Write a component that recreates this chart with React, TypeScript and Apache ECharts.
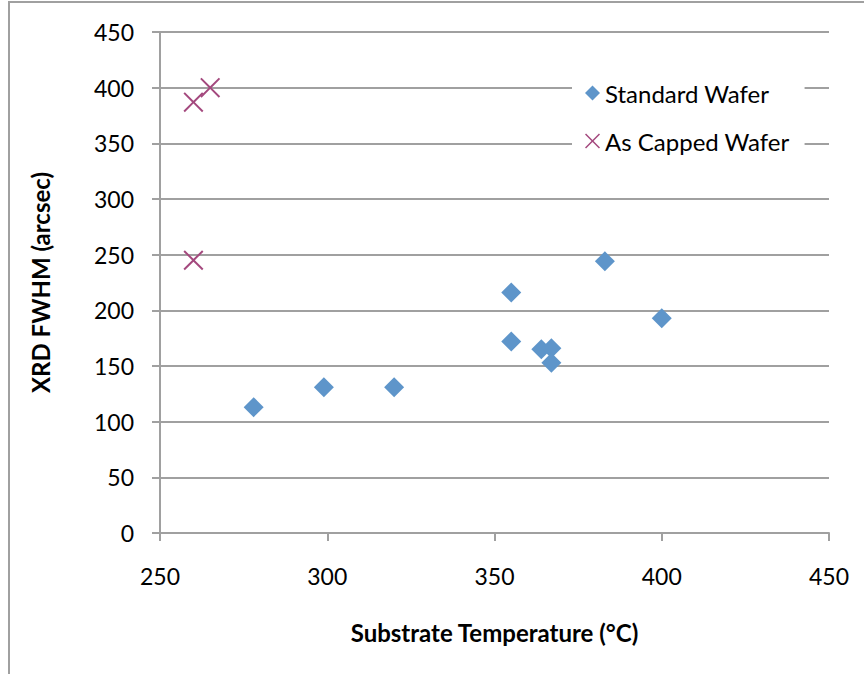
import React, { useEffect, useRef } from "react";
import * as echarts from "echarts";

// Substrate temperature (°C) and XRD FWHM (arcsec)
const standardTemp = [278, 299, 320, 355, 355, 364, 367, 367, 383, 400];
const standardFwhm = [113, 131, 131, 216, 172, 165, 166, 153, 244, 193];
const cappedTemp = [260, 265, 260];
const cappedFwhm = [387, 400, 245];

const seriesNames = ["Standard Wafer", "As Capped Wafer"];
const xTitle = "Substrate Temperature (°C)";
const yTitle = "XRD FWHM (arcsec)";

const FONT = "Lato, 'Open Sans', sans-serif";
const GRAY = "#a0a0a0";

const crossPath =
  "path://M0,0.7 L0.7,0 L5,4.3 L9.3,0 L10,0.7 L5.7,5 L10,9.3 L9.3,10 L5,5.7 L0.7,10 L0,9.3 L4.3,5 Z";

export default function App() {
  const ref = useRef<HTMLDivElement>(null);

  useEffect(() => {
    if (!ref.current) return;
    const chart = echarts.init(ref.current, null, { renderer: "svg" });
    const pts = (xs: number[], ys: number[]) => xs.map((x, i) => [x, ys[i]]);

    chart.setOption({
      animation: false,
      backgroundColor: "#ffffff",
      textStyle: { fontFamily: FONT },
      graphic: [
        {
          type: "rect",
          shape: { x: 9, y: 2, width: 1000, height: 1000 },
          style: { fill: "none", stroke: GRAY, lineWidth: 2 },
          silent: true,
        },
      ],
      grid: { left: 160, right: 35, top: 32, bottom: 141 },
      legend: {
        orient: "vertical",
        left: 572,
        top: 75,
        backgroundColor: "#ffffff",
        padding: [4, 15, 4, 13],
        itemGap: 20,
        itemWidth: 15,
        itemHeight: 15,
        textStyle: { fontFamily: FONT, fontSize: 24, color: "#000", lineHeight: 28 },
        data: seriesNames,
      },
      xAxis: {
        type: "value",
        min: 250,
        max: 450,
        interval: 50,
        name: xTitle,
        nameLocation: "middle",
        nameGap: 87,
        nameTextStyle: { fontFamily: FONT, fontSize: 24, fontWeight: "bold", color: "#000" },
        axisLine: { show: true, onZero: false, lineStyle: { color: GRAY, width: 2 } },
        axisTick: { show: true, length: 8, inside: false, lineStyle: { color: GRAY, width: 2 } },
        axisLabel: { fontFamily: FONT, fontSize: 23, color: "#000", margin: 31 },
        splitLine: { show: false },
      },
      yAxis: {
        type: "value",
        min: 0,
        max: 450,
        interval: 50,
        name: yTitle,
        nameLocation: "middle",
        nameGap: 108,
        nameTextStyle: { fontFamily: FONT, fontSize: 24, fontWeight: "bold", color: "#000" },
        axisLine: { show: true, lineStyle: { color: GRAY, width: 2 } },
        axisTick: { show: true, length: 8, inside: false, lineStyle: { color: GRAY, width: 2 } },
        axisLabel: { fontFamily: FONT, fontSize: 23, color: "#000", margin: 26 },
        splitLine: { show: true, lineStyle: { color: GRAY, width: 2 } },
      },
      series: [
        {
          name: seriesNames[0],
          type: "scatter",
          symbol: "diamond",
          symbolSize: 20,
          itemStyle: { color: "#5e95ca", opacity: 1 },
          data: pts(standardTemp, standardFwhm),
          z: 3,
        },
        {
          name: seriesNames[1],
          type: "scatter",
          symbol: crossPath,
          symbolSize: 20,
          itemStyle: { color: "#a4497e", opacity: 1 },
          data: pts(cappedTemp, cappedFwhm),
          z: 4,
        },
      ],
    });

    return () => chart.dispose();
  }, []);

  return (
    <div
      ref={ref}
      style={{ position: "fixed", left: 0, top: 0, width: 864, height: 674 }}
    />
  );
}
